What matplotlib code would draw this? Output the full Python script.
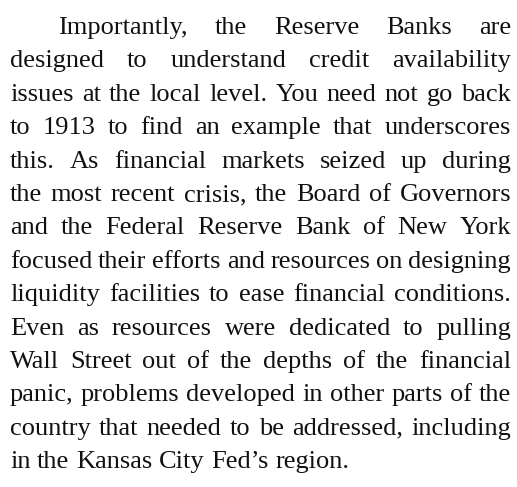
import matplotlib
matplotlib.use('Agg')
import matplotlib.pyplot as plt

# paragraph text, one entry per printed line
lines = [
    'Importantly, the Reserve Banks are',
    'designed to understand credit availability',
    'issues at the local level. You need not go back',
    'to 1913 to find an example that underscores',
    'this. As financial markets seized up during',
    'the most recent crisis, the Board of Governors',
    'and the Federal Reserve Bank of New York',
    'focused their efforts and resources on designing',
    'liquidity facilities to ease financial conditions.',
    'Even as resources were dedicated to pulling',
    'Wall Street out of the depths of the financial',
    'panic, problems developed in other parts of the',
    'country that needed to be addressed, including',
    'in the Kansas City Fed\u2019s region.',
]

W, H = 517, 487
LEFT, RIGHT, INDENT = 10, 511, 58
TOP, LEADING = 34, 33.4
FONT = dict(family='Liberation Serif', size=19, color='#111111')

fig = plt.figure(figsize=(W / 100, H / 100), dpi=100)
ax = fig.add_axes([0, 0, 1, 1])
ax.set_xlim(0, W)
ax.set_ylim(H, 0)
ax.axis('off')

renderer = fig.canvas.get_renderer()


def width(s):
    t = ax.text(0, 0, s, **FONT)
    w = t.get_window_extent(renderer).width
    t.remove()
    return w


space = width('a a') - width('aa')

for i, line in enumerate(lines):
    words = line.split(' ')
    ws = [width(w) for w in words]
    x0 = INDENT if i == 0 else LEFT
    y = TOP + i * LEADING
    # last line stays ragged, the rest is justified to the right edge
    if i == len(lines) - 1 or len(words) == 1:
        gap = space
    else:
        gap = (RIGHT - x0 - sum(ws)) / (len(words) - 1)
    x = x0
    for w, wd in zip(words, ws):
        ax.text(x, y, w, va='baseline', ha='left', **FONT)
        x += wd + gap

fig.savefig('out.png', dpi=100, facecolor='white')
